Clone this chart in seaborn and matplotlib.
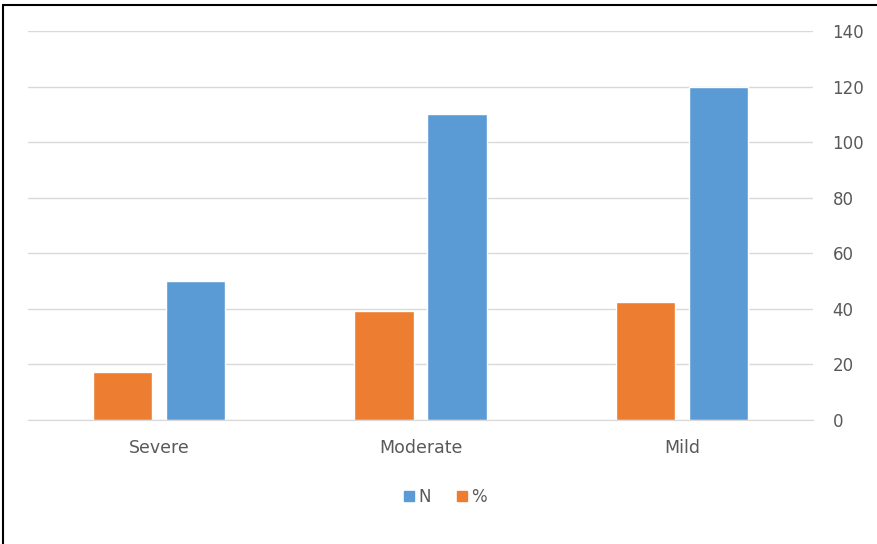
import matplotlib.pyplot as plt
import matplotlib.lines as mlines
import pandas as pd
import seaborn as sns

# Severity groups: counts (N) and share of patients (%)
categories = ["Severe", "Moderate", "Mild"]
n_values = [50, 110, 120]
pct_values = [17.4, 39.3, 42.5]

df = pd.DataFrame({
    "group": categories * 2,
    "series": ["%"] * 3 + ["N"] * 3,
    "value": pct_values + n_values,
})

sns.set_style("white")
plt.rcParams["font.family"] = ["DejaVu Sans"]

fig = plt.figure(figsize=(8.77, 5.44), dpi=100)
ax = fig.add_axes([0.032, 0.228, 0.895, 0.715])

palette = {"N": "#5b9bd5", "%": "#ed7d31"}
sns.barplot(data=df, x="group", y="value", hue="series", hue_order=["%", "N"],
            palette=palette, width=0.56, gap=0.19, saturation=1,
            ax=ax, legend=False)

ax.set_ylim(0, 140)
ax.set_yticks(range(0, 141, 20))
ax.yaxis.tick_right()
ax.grid(axis="y", color="#d9d9d9", linewidth=1)
ax.set_axisbelow(True)
for side in ["top", "left", "right"]:
    ax.spines[side].set_visible(False)
ax.spines["bottom"].set_color("#d9d9d9")
ax.tick_params(axis="y", length=0, pad=14, labelsize=12, labelcolor="#595959")
ax.tick_params(axis="x", length=0, pad=14, labelsize=12.5, labelcolor="#595959")
ax.set_xlabel("")
ax.set_ylabel("")

handles = [plt.Rectangle((0, 0), 1, 1, color=palette["N"]),
           plt.Rectangle((0, 0), 1, 1, color=palette["%"])]
fig.legend(handles, ["N", "%"], loc="center", bbox_to_anchor=(0.508, 0.087),
           ncol=2, frameon=False, handlelength=0.6, handleheight=0.6,
           handletextpad=0.25, columnspacing=1.6,
           prop={"size": 12}, labelcolor="#595959")

# outer chart frame (left and top edges visible)
fig.add_artist(mlines.Line2D([0.003, 0.003], [0, 0.991], color="black", linewidth=1.5))
fig.add_artist(mlines.Line2D([0.003, 1], [0.991, 0.991], color="black", linewidth=1.5))

fig.savefig("out.png", dpi=100)
